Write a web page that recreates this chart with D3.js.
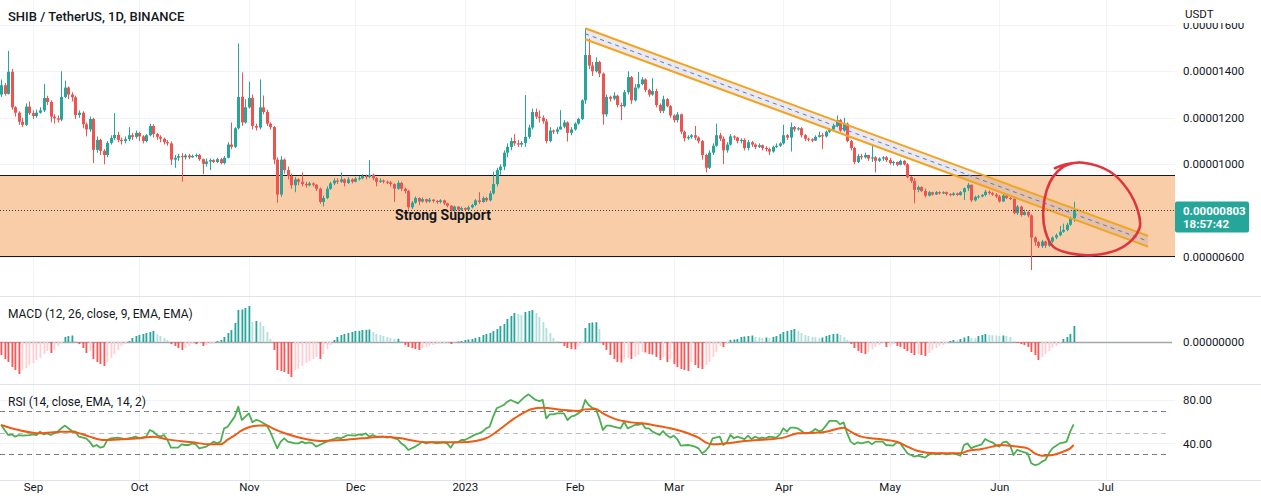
<!DOCTYPE html>
<html><head><meta charset="utf-8">
<script src="https://cdn.jsdelivr.net/npm/d3@7"></script>
<style>
html,body{margin:0;padding:0;background:#fff;}
svg{display:block;font-family:Roboto,"Open Sans",sans-serif;}
</style></head><body>
<svg id="chart" width="1261" height="501"></svg>
<script>
// ---------------- DATA (prices in units of 1e-8 USDT) ----------------
const chartTitle = "SHIB / TetherUS, 1D, BINANCE";
const startDay = "2022-08-23";           // first daily candle
const firstOpen = 1300;
const closes = [
1340,1303,1398,1245,1222,1183,1170,1248,1220,1208,
1222,1232,1285,1268,1205,1198,1192,1290,1330,1300,
1288,1212,1222,1172,1150,1195,1062,1105,1058,1040,
1092,1113,1126,1105,1100,1108,1125,1118,1135,1120,
1100,1125,1165,1130,1118,1110,1095,1090,1020,1028,
1035,1030,1038,1030,1036,1040,1022,1002,1012,1018,
1010,1022,1005,1028,1085,1075,1155,1290,1180,1245,
1285,1165,1158,1245,1225,1175,1160,1020,870,1020,
975,950,910,935,925,915,910,918,912,895,
838,855,895,918,930,925,935,920,935,925,
938,940,950,945,955,940,925,930,925,922,
915,895,920,895,885,815,835,855,840,850,
840,848,842,838,845,832,822,800,818,805,
812,805,815,825,845,838,855,845,875,915,
975,990,1050,1075,1100,1090,1085,1092,1118,1158,
1225,1205,1200,1185,1100,1145,1140,1150,1162,1180,
1135,1150,1175,1195,1275,1470,1425,1400,1440,1390,
1215,1290,1282,1295,1255,1250,1310,1375,1275,1330,
1345,1365,1320,1300,1315,1255,1230,1280,1250,1210,
1190,1215,1140,1112,1118,1125,1115,1100,1040,985,
1050,1080,1125,1110,1060,1085,1120,1115,1100,1105,
1070,1095,1085,1075,1082,1070,1065,1055,1075,1080,
1090,1125,1115,1160,1150,1155,1125,1110,1108,1102,
1118,1125,1120,1140,1150,1165,1190,1145,1175,1100,
1070,1010,1035,1030,1040,1025,1030,1015,1025,1030,
1018,1005,1010,998,1015,1000,945,928,890,902,
885,865,880,870,880,875,880,872,868,875,
868,880,897,912,845,860,862,868,882,876,
870,862,840,866,855,852,790,818,782,795,
780,685,665,648,668,650,668,685,695,710,
718,740,768,803];
const highs = [
1365,1350,1488,1410,1250,1228,1200,1262,1270,1232,
1235,1245,1345,1295,1275,1215,1210,1400,1360,1335,
1310,1295,1232,1228,1180,1205,1200,1120,1110,1065,
1100,1125,1220,1140,1115,1120,1160,1135,1145,1140,
1125,1130,1175,1172,1135,1125,1115,1105,1098,1040,
1045,1048,1045,1045,1042,1046,1045,1025,1025,1025,
1022,1028,1028,1035,1095,1180,1160,1520,1395,1280,
1355,1300,1175,1365,1296,1235,1180,1165,1030,1035,
1025,990,960,945,940,965,925,925,922,915,
900,865,905,925,940,940,965,940,945,940,
945,950,958,955,1018,960,945,940,935,930,
928,918,930,925,900,890,842,862,858,858,
852,855,850,846,850,848,835,825,822,820,
818,815,822,830,850,880,862,860,885,968,
985,1000,1060,1090,1115,1130,1105,1100,1298,1170,
1240,1240,1232,1210,1195,1160,1150,1160,1233,1190,
1185,1160,1180,1200,1280,1586,1540,1440,1460,1445,
1395,1300,1295,1310,1300,1265,1320,1400,1380,1345,
1397,1375,1370,1325,1370,1325,1262,1295,1285,1255,
1215,1225,1218,1145,1125,1130,1165,1120,1105,1045,
1060,1090,1175,1135,1120,1095,1130,1125,1118,1112,
1112,1105,1100,1090,1090,1085,1078,1072,1080,1090,
1095,1170,1130,1180,1165,1160,1160,1130,1115,1112,
1125,1140,1135,1145,1155,1175,1210,1195,1200,1180,
1105,1075,1045,1045,1050,1040,1082,1035,1030,1035,
1035,1028,1015,1012,1020,1018,1005,950,940,908,
905,895,885,882,885,884,884,883,876,880,
878,885,900,920,912,865,868,872,890,888,
882,876,868,872,870,862,862,825,822,805,
800,785,690,670,675,672,672,690,702,735,
745,748,775,839];
const lows = [
1290,1295,1300,1235,1205,1170,1160,1165,1212,1195,
1200,1218,1225,1255,1180,1175,1180,1185,1285,1280,
1270,1195,1200,1155,1120,1140,1005,1050,1040,1000,
1030,1085,1105,1095,1085,1090,1100,1105,1110,1100,
1090,1095,1120,1115,1105,1095,1085,1080,997,985,
1015,925,1020,1022,1028,1030,1015,958,990,975,
1005,1005,1000,1000,1025,1065,1070,1150,1165,1175,
1240,1150,1145,1150,1215,1165,1150,1000,835,860,
960,935,895,880,910,905,900,905,905,885,
830,818,850,890,910,915,920,905,915,918,
922,930,935,935,940,932,905,920,918,915,
905,838,890,885,875,805,808,830,825,835,
832,835,835,830,832,825,815,792,790,798,
800,798,800,810,820,830,835,838,840,870,
905,955,975,1030,1060,1080,1075,1075,1075,1110,
1150,1195,1180,1175,1090,1095,1130,1130,1150,1155,
1098,1125,1145,1170,1190,1260,1410,1380,1395,1375,
1170,1205,1270,1275,1245,1190,1245,1300,1260,1270,
1325,1340,1310,1290,1295,1245,1220,1220,1245,1200,
1180,1180,1130,1098,1105,1110,1105,1090,1020,965,
980,1040,1075,1100,1000,1050,1080,1105,1090,1090,
1060,1060,1075,1065,1070,1060,1055,1040,1050,1070,
1075,1085,1105,1055,1140,1145,1115,1100,1098,1095,
1100,1115,1065,1115,1135,1145,1160,1140,1140,1095,
1060,1000,1005,1020,1025,1015,1010,965,1010,1015,
1010,998,995,992,995,995,940,920,832,880,
880,858,862,865,868,870,872,866,862,864,
864,865,846,885,838,840,852,858,862,870,
864,855,835,838,850,846,785,782,775,780,
772,545,650,640,640,640,645,662,678,690,
705,712,735,752];
// MACD histogram (estimated, units of ~1e-9 USDT)
const macdHist = [
-13,-17,-20,-25,-28,-32,-28,-26,-23,-21,
-18,-16,-12,-9,-11,-8,-4,-1,5,6,
6.5,1,-2,-6,-11,-9,-17,-20,-22,-24,
-20,-16,-12,-8,-4,-2,1,4,6,7,
8,9,10,11,8,6,4,2,-2,-4,
-6,-8,-6,-4,-2,-2,-1,-4,-3,-2,
-1,1,2,5,9,12,19,32,32.5,34,
36,20,21,20,16,10,3,-8,-28,-29,
-30,-32,-35,-28,-27,-24,-21,-19,-17,-15,
-17,-12,-7,-3,2,5,7,8,9,10,
11,11.2,12,12.2,12.4,10,8,7,6,5,
4,3,3.2,1,-3,-5,-6,-7,-8,-6,
-5,-4,-3,-2,-1.5,-1,-0.5,-2,-0.5,0.5,
1,2,2.5,3,4,5,7,8,9,11,
13,16,18,23,26,29,28,27,30,31,
32,29,25,20,14,9,4,1,-1,-4,
-6,-7,-7.5,-4,-1,14,19,19.5,19.8,13,
-3,-8,-13,-17,-20,-20.5,-17,-16,-17,-15,
-13,-10,-10.5,-12,-12.5,-15,-18,-15,-20,-17,
-22,-25,-27,-28,-29,-20,-23,-26,-27,-23,
-20,-15,-10,-4,-5,-2,2,2.5,3,5,
5.5,6,6.5,5,4.8,4,4.5,4,5,6,
8,10,11,12,13,11,9,7,6,5,
4.8,4,4.5,6,7,8,8.3,7,5,2,
-2,-6,-9,-11,-12,-10,-7,-5,-3,-1,
-5,-4,-2,-4,-5,-7,-9,-11,-13,-12,
-13,-14,-11,-8,-6,-4,-3,-1,1,2,
1.8,3,4.5,6,4,3.8,6,7,8,7,
6.8,6.5,6,6.5,6,5,1,-1,-2,-3,
-5,-10,-13,-18,-15,-12,-9,-6,-4,-2,
3,5,8,16];
// RSI(14) readings: [day index, value]
const rsiLine = [[0,57.1],[1,52.4],[2,47.8],[3,48.4],[4,46.3],[5,47.8],[6,47.2],[8,47.8],[9,48.4],[10,47.8],[11,50.9],[12,48.4],[13,49.4],[14,47.8],[16,50.9],[17,54],[18,56.5],[19,54],[20,51.5],[21,50.9],[22,46.3],[24,44.8],[25,41.7],[26,37.1],[27,38.6],[28,36.1],[29,37.1],[30,43.2],[31,44.8],[33,45.4],[34,44.8],[35,44.1],[36,44.8],[37,45.4],[38,46.3],[39,44.8],[41,46.3],[42,52.4],[43,50.9],[44,47.8],[45,46.3],[46,47.8],[47,43.2],[48,36.1],[50,36.1],[51,39.2],[52,38.6],[53,38.6],[54,40.1],[55,39.2],[56,35.5],[58,37.1],[59,39.2],[60,41.7],[61,40.1],[62,41.7],[63,54],[64,55.5],[66,64.8],[67,74],[68,61.7],[69,64.8],[70,67.8],[71,59.5],[72,61.7],[73,60.8],[75,57.1],[76,50.9],[77,43.2],[78,35.5],[79,41.7],[80,44.8],[81,41.7],[83,40.1],[84,40.1],[85,41.7],[86,40.1],[87,41.1],[88,40.1],[89,37.1],[90,38.6],[92,41.7],[93,43.2],[94,44.1],[95,45.4],[96,44.8],[97,46.3],[98,47.8],[100,47.2],[101,48.4],[102,47.8],[103,49.4],[104,46.3],[105,47.8],[106,46.3],[108,46.3],[109,45.4],[110,46.3],[111,44.8],[112,44.1],[113,40.1],[114,38],[115,34],[117,37.1],[118,39.2],[119,41.7],[120,40.1],[121,41.1],[122,41.1],[123,40.1],[125,41.1],[126,40.1],[127,36.1],[128,41.1],[129,41.1],[130,43.2],[131,43.2],[132,44.8],[134,48.4],[135,49.4],[136,50.9],[137,54],[138,55.5],[139,64.8],[140,72.5],[142,75.5],[143,78.6],[144,80.2],[145,78.6],[146,77.1],[147,80.2],[148,83.2],[149,85.4],[151,80.2],[152,79.2],[153,80.2],[154,63.2],[155,66.9],[156,66.9],[157,67.8],[159,67.8],[160,61.7],[161,64.8],[162,65.7],[163,67.8],[164,70],[165,80.2],[166,75.5],[167,73],[168,72],[169,63.2],[170,52.4],[171,56.5],[172,56.5],[173,55.5],[175,54],[176,60.1],[177,54],
[178,55.5],[179,57.1],[180,57.1],[181,58.6],[182,54],[183,54],[184,50.9],[186,47.8],[187,51.5],[188,47.8],[189,45.4],[190,47.2],[191,44.1],[192,38],[194,38.6],[195,38],[196,37.1],[197,35.5],[198,30.9],[199,33],[200,37.1],[201,44.8],[203,46.3],[204,38.6],[205,41.1],[206,47.8],[207,44.8],[208,46.3],[210,44.1],[211,47.2],[212,44.1],[213,46.3],[214,44.8],[215,45.4],[216,44.8],[217,46.3],[219,45.4],[220,48.4],[221,54],[222,50.9],[223,54.6],[224,54.6],[225,54],[227,49.4],[228,49.4],[229,50.9],[230,53.4],[231,51.5],[232,52.4],[233,56.5],[234,60.8],[236,60.8],[237,57.7],[238,59.5],[239,49.4],[240,41.7],[241,39.2],[242,41.1],[243,40.1],[245,41.7],[246,39.2],[247,41.7],[248,41.7],[249,41.7],[250,38.6],[252,38],[253,41.1],[254,40.1],[255,35.5],[256,30.9],[257,29.4],[258,27.8],[259,28.7],[261,26.9],[262,29.4],[263,30.9],[264,30],[265,30.9],[266,30.9],[267,30],[269,30.9],[270,30],[271,28.7],[272,38.6],[273,40.1],[274,35.5],[275,37.1],[277,39.2],[278,44.1],[279,42.3],[280,41.1],[281,38.6],[282,37.1],[283,41.1],[284,41.7],[285,38.6],[286,29.4],[287,34],[288,33],[290,30.9],[291,21.7],[292,20.1],[293,20.7],[294,23.2],[295,24.7],[296,30.9],[297,35.5],[299,40.1],[300,40.7],[301,41.7],[302,50.9],[303,57.7]];
// EMA(14) of RSI: [day index, value]
const rsiMaLine = [[0,57.1],[5,52.4],[11,49.4],[17,50.9],[20,50.9],[25,46.3],[29,43.2],[34,43.8],[39,44.8],[43,46.3],[47,43.8],[54,41.1],[59,39.2],[62,39.2],[64,43.5],[66,47.5],[68,52],[70,55],[73,56.5],[75,56.5],[77,53.5],[81,48.5],[86,44.1],[90,42.3],[96,43.2],[102,44.8],[108,46.3],[113,44.8],[117,42.3],[120,41.1],[125,41.1],[130,41.1],[134,42.3],[137,44.8],[140,50.9],[145,63.2],[150,71.8],[153,73.1],[159,70.9],[163,70],[165,71.5],[168,71.8],[170,67.8],[173,63.2],[178,59.5],[181,58.6],[184,57.1],[189,54],[194,49.4],[197,45.4],[199,41.1],[201,39.2],[205,40.1],[210,42.3],[214,43.2],[217,43.8],[221,45.4],[225,49.4],[230,50],[233,50.9],[236,53.4],[238,54.6],[240,50.9],[243,46.3],[248,44.1],[253,41.7],[256,37.1],[259,33],[264,30.9],[269,30.9],[271,30.9],[273,33],[277,34.9],[280,37.1],[282,38.6],[285,38],[287,37.1],[290,35.5],[292,30.9],[294,28.7],[297,29.4],[300,32.4],[302,35.5],[303,38.6]];
const priceTicks = [600, 800, 1000, 1200, 1400, 1600];
const rsiTicks = [80, 40];
const rsiBands = [70, 50, 30];
const lastPrice = 803;
const countdown = "18:57:42";
// Drawings (day index, price)
const supportZone = [954, 604];
const supportLabel = {text: "Strong Support", day: 111.3, price: 760};
const channelDays = [165, 324];
const channelUpper = [1585, 692];
const channelLower = [1538, 646];
const circlePts = [[297.7,983],[300.8,1000],[305.7,1007],[313.3,968],[318.3,890],[321.2,796],[321.7,732],[319.4,674],[315.1,631],[308.5,610],[301.9,617],[297.2,646],[294.9,717],[294.4,803],[295.4,890],[297.2,947],[300.1,990],[302.4,1004],[304.5,1008]];

// ---------------- LAYOUT ----------------
const svg = d3.select("#chart");
const plotR = 1175;
const DAY = 864e5, t0 = Date.parse(startDay + "T00:00:00Z");
const dayDate = i => new Date(t0 + i * DAY);
const n = closes.length;
const opens = closes.map((c, i) => i === 0 ? firstOpen : closes[i - 1]);

const x = d3.scaleUtc().domain([dayDate(0), dayDate(n - 1)]).range([1.1, 1073.7]);
const y = d3.scaleLinear().domain([600, 1000]).range([257.3, 164.3]);
const yM = d3.scaleLinear().domain([-42, 46]).range([384, 296]);
const yR = d3.scaleLinear().domain([30, 70]).range([454.3, 411]);
const xd = i => x(dayDate(i));
const fmtP = v => (v * 1e-8).toFixed(8);

const defs = svg.append("defs");
[["cPrice",0,296],["cMacd",296,88],["cRsi",384,96]].forEach(([id,y0,h]) =>
  defs.append("clipPath").attr("id", id).append("rect").attr("x",0).attr("y",y0).attr("width",plotR).attr("height",h));
defs.append("clipPath").attr("id", "cAxis").append("rect").attr("x", plotR).attr("y", 23).attr("width", 1261 - plotR).attr("height", 480);

// grid
const months = d3.utcMonth.range(new Date(Date.UTC(2022,8,1)), new Date(Date.UTC(2023,6,2)));
const grid = svg.append("g").attr("stroke", "#f0f3fa").attr("stroke-width", 1);
grid.selectAll("line.v").data(months).join("line").attr("class","v")
  .attr("x1", d => Math.round(x(d)) + 0.5).attr("x2", d => Math.round(x(d)) + 0.5)
  .attr("y1", 0).attr("y2", 480);
grid.selectAll("line.hp").data(priceTicks).join("line").attr("class","hp")
  .attr("x1", 0).attr("x2", plotR).attr("y1", d => Math.round(y(d)) + 0.5).attr("y2", d => Math.round(y(d)) + 0.5);
grid.selectAll("line.hr").data(rsiTicks).join("line").attr("class","hr")
  .attr("x1", 0).attr("x2", plotR).attr("y1", d => Math.round(yR(d)) + 0.5).attr("y2", d => Math.round(yR(d)) + 0.5);
svg.append("g").attr("stroke", "#e0e3eb").selectAll("line").data([296, 384, 480]).join("line")
  .attr("x1", 0).attr("x2", 1261).attr("y1", d => d + 0.5).attr("y2", d => d + 0.5);

// price pane
const pp = svg.append("g").attr("clip-path", "url(#cPrice)");
pp.append("rect").attr("x", 0).attr("width", plotR)
  .attr("y", y(supportZone[0])).attr("height", y(supportZone[1]) - y(supportZone[0]))
  .attr("fill", "#f8c9a0").attr("fill-opacity", 0.93);
pp.selectAll("line.zb").data(supportZone).join("line").attr("class","zb")
  .attr("x1", 0).attr("x2", plotR).attr("y1", d => Math.round(y(d)) + 0.5).attr("y2", d => Math.round(y(d)) + 0.5)
  .attr("stroke", "#131722").attr("stroke-width", 1.2);

// channel
const cx0 = xd(channelDays[0]), cx1 = xd(channelDays[1]);
pp.append("path")
  .attr("d", `M${cx0},${y(channelUpper[0])}L${cx1},${y(channelUpper[1])}L${cx1},${y(channelLower[1])}L${cx0},${y(channelLower[0])}Z`)
  .attr("fill", "rgba(120,123,165,0.16)");
pp.append("line").attr("x1", cx0).attr("x2", cx1)
  .attr("y1", y((channelUpper[0] + channelLower[0]) / 2)).attr("y2", y((channelUpper[1] + channelLower[1]) / 2))
  .attr("stroke", "#6b78a8").attr("stroke-width", 1).attr("stroke-dasharray", "4,4");

// candles
const cg = pp.append("g");
const up = i => closes[i] >= opens[i];
cg.selectAll("line.w").data(d3.range(n)).join("line").attr("class","w")
  .attr("x1", i => Math.round(xd(i)) + 0.5).attr("x2", i => Math.round(xd(i)) + 0.5)
  .attr("y1", i => y(highs[i])).attr("y2", i => y(lows[i]))
  .attr("stroke", i => up(i) ? "#26a69a" : "#ef5350").attr("stroke-width", 1);
cg.selectAll("rect.b").data(d3.range(n)).join("rect").attr("class","b")
  .attr("x", i => Math.round(xd(i)) - 1).attr("width", 3)
  .attr("y", i => y(Math.max(opens[i], closes[i])))
  .attr("height", i => Math.max(1, Math.abs(y(opens[i]) - y(closes[i]))))
  .attr("fill", i => up(i) ? "#26a69a" : "#ef5350");

// channel borders
[channelUpper, channelLower].forEach(c =>
  pp.append("line").attr("x1", cx0).attr("x2", cx1).attr("y1", y(c[0])).attr("y2", y(c[1]))
    .attr("stroke", "#f4a31c").attr("stroke-width", 2));

// last price line
pp.append("line").attr("x1", 0).attr("x2", plotR)
  .attr("y1", Math.round(y(lastPrice)) + 0.5).attr("y2", Math.round(y(lastPrice)) + 0.5)
  .attr("stroke", "#3c3f48").attr("stroke-width", 1).attr("stroke-dasharray", "1,2");

pp.append("text").attr("x", xd(supportLabel.day)).attr("y", y(supportLabel.price))
  .attr("font-size", 14).attr("font-weight", 700).attr("fill", "#131722").text(supportLabel.text);

pp.append("path").datum(circlePts)
  .attr("d", d3.line().x(d => xd(d[0])).y(d => y(d[1])).curve(d3.curveCatmullRom))
  .attr("fill", "none").attr("stroke", "#e0353f").attr("stroke-width", 2.6).attr("stroke-linecap", "round");

// MACD pane
const mp = svg.append("g").attr("clip-path", "url(#cMacd)");
mp.append("line").attr("x1", 0).attr("x2", 1172).attr("y1", Math.round(yM(0)) + 0.5).attr("y2", Math.round(yM(0)) + 0.5)
  .attr("stroke", "#a3a6af").attr("stroke-width", 1.5);
const macdColor = i => {
  const v = macdHist[i], p = i > 0 ? macdHist[i - 1] : v;
  if (v >= 0) return p < v ? "#26a69a" : "#b2dfdb";
  return p < v ? "#ffcdd2" : "#ff5252";
};
mp.selectAll("rect").data(d3.range(macdHist.length)).join("rect")
  .attr("x", i => Math.round(xd(i)) - 0.5).attr("width", 1.8)
  .attr("y", i => Math.min(yM(0), yM(macdHist[i])))
  .attr("height", i => Math.abs(yM(macdHist[i]) - yM(0)))
  .attr("fill", i => macdColor(i));

// RSI pane
const rp = svg.append("g").attr("clip-path", "url(#cRsi)");
rp.selectAll("line.band").data(rsiBands).join("line").attr("class","band")
  .attr("x1", 0).attr("x2", 1170).attr("y1", d => Math.round(yR(d)) + 0.5).attr("y2", d => Math.round(yR(d)) + 0.5)
  .attr("stroke", "#787b86").attr("stroke-opacity", d => d === 50 ? 0.5 : 1)
  .attr("stroke-dasharray", "5,4");
const rl = d3.line().x(d => xd(d[0])).y(d => yR(d[1]));
rp.append("path").datum(rsiLine).attr("d", rl).attr("fill", "none").attr("stroke", "#4caf50").attr("stroke-width", 1.8).attr("stroke-linejoin","round");
rp.append("path").datum(rsiMaLine).attr("d", rl.curve(d3.curveMonotoneX)).attr("fill", "none").attr("stroke", "#f05a13").attr("stroke-width", 2).attr("stroke-linejoin","round");

// legends
const txt = "#131722";
svg.append("text").attr("x", 8).attr("y", 21).attr("font-size", 13).attr("font-weight", 500).attr("fill", txt).text(chartTitle);
svg.append("text").attr("x", 8).attr("y", 317.5).attr("font-size", 12).attr("fill", txt).text("MACD (12, 26, close, 9, EMA, EMA)");
svg.append("text").attr("x", 8).attr("y", 405.5).attr("font-size", 12).attr("fill", txt).text("RSI (14, close, EMA, 14, 2)");

// axes
const axStyle = g => { g.select(".domain").remove(); g.selectAll("text").attr("fill", txt).attr("font-size", 11.5).attr("font-family", "Roboto"); };
svg.append("g").attr("clip-path", "url(#cAxis)").append("g").attr("transform", `translate(${plotR},0)`)
  .call(d3.axisRight(y).tickValues(priceTicks).tickFormat(fmtP).tickSize(0).tickPadding(8)).call(axStyle);
svg.append("g").attr("transform", `translate(${plotR},0)`)
  .call(d3.axisRight(yM).tickValues([0]).tickFormat(v => (v * 1e-9).toFixed(8)).tickSize(0).tickPadding(8)).call(axStyle);
svg.append("g").attr("transform", `translate(${plotR},0)`)
  .call(d3.axisRight(yR).tickValues(rsiTicks).tickFormat(d3.format(".2f")).tickSize(0).tickPadding(8)).call(axStyle);
svg.append("g").attr("transform", "translate(0,480)")
  .call(d3.axisBottom(x).tickValues(months).tickSize(0).tickPadding(3)
    .tickFormat(d => d.getUTCMonth() === 0 ? d3.utcFormat("%Y")(d) : d3.utcFormat("%b")(d))).call(axStyle);

// axis unit header
svg.append("text").attr("x", 1185).attr("y", 17.5).attr("font-size", 11.5).attr("fill", txt).text("USDT");

// last price label
const ly = y(lastPrice);
svg.append("rect").attr("x", plotR).attr("y", ly - 8.5).attr("width", 74).attr("height", 31).attr("rx", 2).attr("fill", "#26a69a");
svg.append("text").attr("x", 1183).attr("y", ly + 4.5).attr("font-size", 11.5).attr("font-weight", 700).attr("fill", "#fff").text(fmtP(lastPrice));
svg.append("text").attr("x", 1183).attr("y", ly + 18).attr("font-size", 11.5).attr("font-weight", 700).attr("fill", "#fff").text(countdown);
</script>
</body></html>
